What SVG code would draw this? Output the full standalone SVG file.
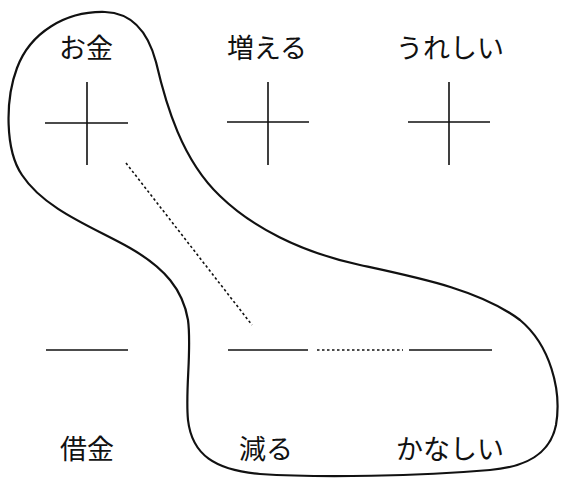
<svg xmlns="http://www.w3.org/2000/svg" width="562" height="486" viewBox="0 0 562 486">
<style>
.t{font-family:"Noto Sans CJK JP","Noto Sans CJK SC",sans-serif;font-size:27px;fill:#111;text-anchor:middle}
.l{stroke:#111;stroke-width:1.6;fill:none}
.d{stroke:#111;stroke-width:1.6;fill:none;stroke-dasharray:2.5 2.5}
.b{stroke:#111;stroke-width:2.2;fill:none;stroke-linejoin:round}
</style>
<rect width="562" height="486" fill="#fff"/>
<g id="connectors">
<path class="b" d="M105,12 C133,13 148,32 156,62 C166,105 182,160 220,196 C252,227 300,252 360,265 C420,278 480,290 520,320 C550,345 562,390 556,425 C550,455 525,467 490,470 C420,476 320,478 260,474 C215,470 192,455 188,420 C185,390 192,350 188,320 C183,290 165,268 130,248 C95,228 45,210 22,175 C5,150 5,100 17,68 C30,33 65,11 105,12 Z"/>
<path class="d" d="M126,163 L252,325"/>
<path class="d" d="M317,350 L403,350"/>
</g>
<g id="okane"><text class="t" x="86" y="58">お金</text><path class="l" d="M87,82 V165 M45,123 H128"/></g>
<g id="fueru"><text class="t" x="267" y="58">増える</text><path class="l" d="M268,82 V165 M227,122 H309"/></g>
<g id="ureshii"><text class="t" x="450" y="58">うれしい</text><path class="l" d="M449,82 V165 M408,122 H490"/></g>
<g id="shakkin"><text class="t" x="87" y="459">借金</text><path class="l" d="M46,350 H128"/></g>
<g id="heru"><text class="t" x="266" y="459">減る</text><path class="l" d="M228,350 H308"/></g>
<g id="kanashii"><text class="t" x="450" y="459">かなしい</text><path class="l" d="M409,350 H492"/></g>
</svg>
